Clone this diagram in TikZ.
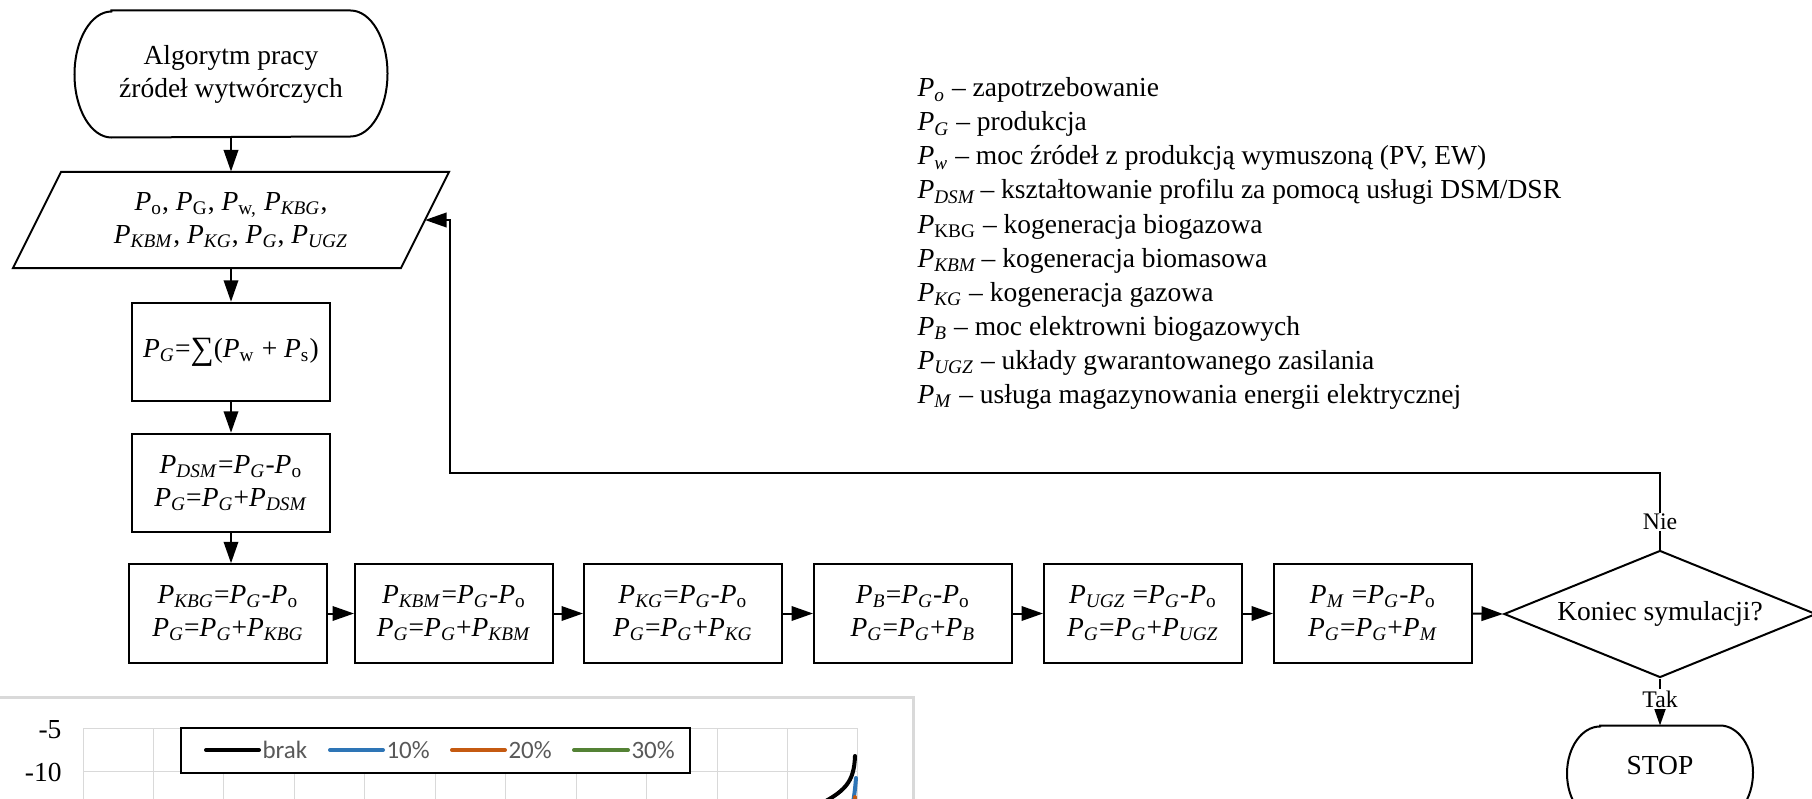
\documentclass[tikz,border=0pt]{standalone}
\usepackage{fontspec}
\setmainfont{Liberation Serif}
\newfontfamily\calibrifont{Carlito}
\usetikzlibrary{arrows.meta,shapes.geometric}
\definecolor{cblue}{HTML}{2E75B6}
\definecolor{corange}{HTML}{C55A11}
\definecolor{cgreen}{HTML}{548235}
\definecolor{cgrid}{HTML}{D9D9D9}
\definecolor{ctext}{HTML}{595959}
\newcommand{\PI}[1]{\textit{P}\textsubscript{\textit{#1}}}
\newcommand{\PU}[1]{\textit{P}\textsubscript{#1}}
\newcommand{\termpath}[3]{%
  \draw[line] ([xshift=#2]#1.north west) -- ([xshift=-#2]#1.north east)
    arc[start angle=90,end angle=-90,x radius=#2,y radius=#3]
    -- ([xshift=#2]#1.south west)
    arc[start angle=270,end angle=90,x radius=#2,y radius=#3] -- cycle;}
\begin{document}
\begin{tikzpicture}[x=0.4pt,y=-0.4pt,
  font=\fontsize{11}{13.2}\selectfont,
  line/.style={line width=0.8pt},
  arr/.style={line width=0.8pt,-{Triangle[length=8.6pt,width=5.8pt]}},
  box/.style={draw,line width=0.8pt,minimum width=79.2pt,minimum height=39.4pt,align=center,inner sep=0pt},
  term/.style={minimum width=124.8pt,minimum height=50.4pt,align=center,inner sep=0pt},
  lbl/.style={fill=white,inner sep=0.5pt,font=\fontsize{9.5}{11}\selectfont},
  legline/.style={line width=1.6pt,line cap=round},
  legtxt/.style={anchor=west,text=ctext,inner sep=0pt,font=\calibrifont\fontsize{10}{11}\selectfont},
  grid/.style={cgrid,line width=0.4pt}]
\useasboundingbox (0,0) rectangle (1812,799);
\clip (0,0) rectangle (1812,799);

% ---------- chart fragment ----------
\draw[cgrid,line width=1.2pt] (-10,697) -- (913,697) -- (913,810);
\foreach \i in {0,...,11} \draw[grid] ({83+70.45*\i},728) -- ({83+70.45*\i},810);
\foreach \yy in {728,771} \draw[grid] (83,\yy) -- (858,\yy);
\node[anchor=east,inner sep=0pt] (ym5) at (62,730) {-5};
\node[anchor=east,inner sep=0pt] (ym10) at (62,772) {-10};
\draw[legline,cblue] (856,778) .. controls (855,790) .. (852,810);
\draw[legline,corange] (855,797) -- (855,810);
\draw[legline,black] (855,756) .. controls (854,782) and (846,792) .. (812,808);
\draw[line width=0.5pt,fill=white] (181,728) rectangle (690,773);
\draw[legline,black] (206,750) -- (259,750);
\node[legtxt] (l1) at (262,750) {brak};
\draw[legline,cblue] (330,750) -- (383,750);
\node[legtxt] (l2) at (386,750) {10\%};
\draw[legline,corange] (452,750) -- (505,750);
\node[legtxt] (l3) at (508,750) {20\%};
\draw[legline,cgreen] (574,750) -- (628,750);
\node[legtxt] (l4) at (631,750) {30\%};

% ---------- flowchart ----------
\node[term] (start) at (231,74) {Algorytm pracy\\źródeł wytwórczych};
\termpath{start}{14.8pt}{25.2pt}

\node[minimum width=136pt,minimum height=38.4pt,inner sep=0pt,align=center] (io) at (231,220)
  {\PU{o}, \PU{G}, \PU{w,} \PI{KBG},\\\PI{KBM}, \PI{KG}, \PI{G}, \PI{UGZ}};
\draw[line] (13,268) -- (61,172) -- (449,172) -- (401,268) -- cycle;
\coordinate (ioR) at (425,220);

\node[box] (b1) at (231,352) {\PI{G}=\raisebox{-0.12ex}{\fontsize{13}{13}\selectfont ∑}(\PU{w} + \PU{s})};
\node[box] (b2) at (231,483) {\PI{DSM}=\PI{G}-\PU{o}\\\PI{G}=\PI{G}+\PI{DSM}};

\node[box] (rA) at (228,613.5) {\PI{KBG}=\PI{G}-\PU{o}\\\PI{G}=\PI{G}+\PI{KBG}};
\node[box] (rB) at (454,613.5) {\PI{KBM}=\PI{G}-\PU{o}\\\PI{G}=\PI{G}+\PI{KBM}};
\node[box] (rC) at (683,613.5) {\PI{KG}=\PI{G}-\PU{o}\\\PI{G}=\PI{G}+\PI{KG}};
\node[box] (rD) at (913,613.5) {\PI{B}=\PI{G}-\PU{o}\\\PI{G}=\PI{G}+\PI{B}};
\node[box] (rE) at (1143,613.5) {\PI{UGZ} =\PI{G}-\PU{o}\\\PI{G}=\PI{G}+\PI{UGZ}};
\node[box] (rF) at (1373,613.5) {\PI{M} =\PI{G}-\PU{o}\\\PI{G}=\PI{G}+\PI{M}};

\node[diamond,draw,line width=0.8pt,aspect=2.5,inner sep=0pt,minimum width=124.8pt,minimum height=50.8pt] (dec) at (1660,614) {Koniec symulacji?};

\node[term,minimum width=74pt,minimum height=37.6pt] (stop) at (1660,773) {\raisebox{1.2ex}{STOP}};
\termpath{stop}{13.2pt}{18.8pt}

\draw[arr] (start) -- (io);
\draw[arr] (io) -- (b1);
\draw[arr] (b1) -- (b2);
\draw[arr] (b2.south) -- (b2.south |- rA.north);
\draw[arr] (rA) -- (rB);
\draw[arr] (rB) -- (rC);
\draw[arr] (rC) -- (rD);
\draw[arr] (rD) -- (rE);
\draw[arr] (rE) -- (rF);
\draw[arr] (rF.east) -- (dec.west);

\coordinate (fb1) at (1660,473);
\coordinate (fb2) at (450,473);
\coordinate (fb3) at (450,220);
\draw[arr] (dec.north) -- (fb1) -- (fb2) -- (fb3) -- (ioR);
\node[lbl] (nie) at (1660,522) {Nie};

\draw[arr] (dec.south) -- (stop.north);
\node[lbl] (tak) at (1660,699) {Tak};

% ---------- legend ----------
\foreach \t [count=\i from 0] in {
  {\PI{o} – zapotrzebowanie},
  {\PI{G} – produkcja},
  {\PI{w} – moc źródeł z produkcją wymuszoną (PV, EW)},
  {\PI{DSM}\,– kształtowanie profilu za pomocą usługi DSM/DSR},
  {\PU{KBG} – kogeneracja biogazowa},
  {\PI{KBM}\,– kogeneracja biomasowa},
  {\PI{KG} – kogeneracja gazowa},
  {\PI{B} – moc elektrowni biogazowych},
  {\PI{UGZ} – układy gwarantowanego zasilania},
  {\PI{M} – usługa magazynowania energii elektrycznej}}
  \node[anchor=base west,inner sep=0pt] (leg\i) at (917,{97+34*\i}) {\t};
\end{tikzpicture}
\end{document}
